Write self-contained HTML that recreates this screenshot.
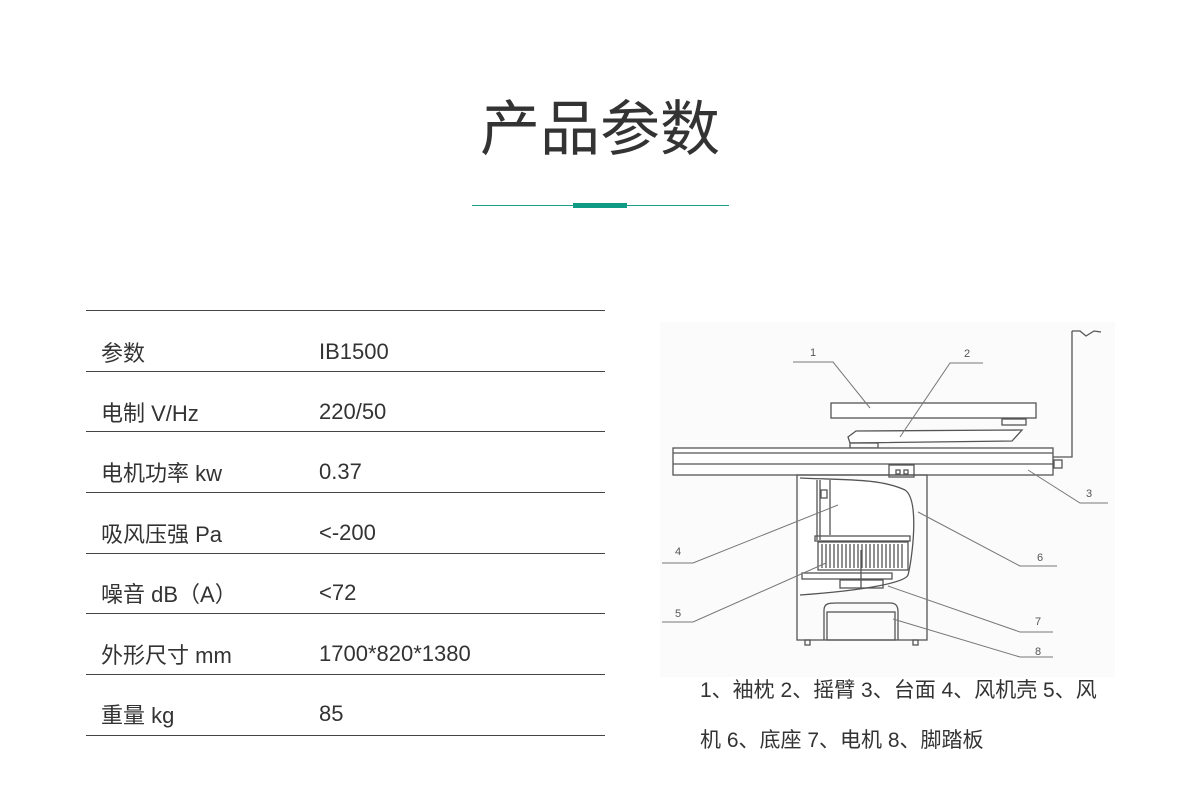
<!DOCTYPE html>
<html><head><meta charset="utf-8"><style>
body{margin:0;width:1200px;height:811px;background:#fff;position:relative;font-family:"Liberation Sans","Noto Sans CJK SC",sans-serif;color:#333;overflow:hidden}
.t{position:absolute;white-space:nowrap}
.h{position:absolute;left:86px;width:519px;height:1px;background:#444}
</style></head><body>
<div class="t" style="left:0;width:1200px;text-align:center;top:94px;font-size:60px;line-height:72px;color:#333">产品参数</div>
<div style="position:absolute;left:472px;top:205px;width:257px;height:1px;background:#1a9f8c"></div>
<div style="position:absolute;left:573px;top:203px;width:54px;height:5px;background:#0f9a84"></div>
<div class="h" style="top:310px"></div><div class="h" style="top:371px"></div><div class="h" style="top:431px"></div><div class="h" style="top:492px"></div><div class="h" style="top:553px"></div><div class="h" style="top:613px"></div><div class="h" style="top:674px"></div><div class="h" style="top:735px"></div>
<div class="t" style="left:101px;top:336px;font-size:22px">参数</div><div class="t" style="left:319px;top:339px;font-size:22px">IB1500</div>
<div class="t" style="left:101px;top:396px;font-size:22px">电制 V/Hz</div><div class="t" style="left:319px;top:399px;font-size:22px">220/50</div>
<div class="t" style="left:101px;top:456px;font-size:22px">电机功率 kw</div><div class="t" style="left:319px;top:459px;font-size:22px">0.37</div>
<div class="t" style="left:101px;top:517px;font-size:22px">吸风压强 Pa</div><div class="t" style="left:319px;top:520px;font-size:22px">&lt;-200</div>
<div class="t" style="left:101px;top:577px;font-size:22px">噪音 dB（A）</div><div class="t" style="left:319px;top:580px;font-size:22px">&lt;72</div>
<div class="t" style="left:101px;top:638px;font-size:22px">外形尺寸 mm</div><div class="t" style="left:319px;top:641px;font-size:22px">1700*820*1380</div>
<div class="t" style="left:101px;top:698px;font-size:22px">重量 kg</div><div class="t" style="left:319px;top:701px;font-size:22px">85</div>
<svg style="position:absolute;left:0;top:0" width="1200" height="811" stroke="#555" fill="none" stroke-width="1.3">
<rect x="660" y="322" width="455" height="355" fill="#fbfbfb" stroke="none"/>
<rect x="831" y="403" width="205" height="15" fill="#fff"/>
<rect x="1002" y="419" width="24" height="6"/>
<polygon points="848,437 856,431 1022,430 1012,441 850,443" fill="#fff"/>
<rect x="850" y="443" width="28" height="5"/>
<rect x="673" y="448" width="380" height="27" fill="#fff"/>
<line x1="673" y1="453" x2="1053" y2="453"/><line x1="673" y1="464" x2="1053" y2="464"/>
<rect x="889" y="465" width="25" height="12"/><rect x="896" y="470" width="4" height="4"/><rect x="904" y="470" width="4" height="4"/>
<polyline points="1072,331 1072,457 1053,457"/><polyline points="1072,331 1080,331 1086,336 1094,331 1101,332"/>
<rect x="1054" y="460" width="8" height="8"/>
<rect x="797" y="475" width="130" height="165"/>
<path d="M800,478 C840,480 880,478 905,490 C920,500 912,560 908,575 C905,582 870,590 800,595" fill="#fff"/>
<line x1="830" y1="480" x2="830" y2="535"/>
<line x1="817" y1="480" x2="817" y2="540"/><line x1="820" y1="480" x2="820" y2="540"/>
<rect x="821" y="490" width="6" height="8"/>
<rect x="815" y="536" width="95" height="5"/>
<rect x="818" y="542" width="90" height="28"/>
<path d="M822,544 v24 M826,544 v24 M830,544 v24 M834,544 v24 M838,544 v24 M842,544 v24 M846,544 v24 M850,544 v24 M854,544 v24 M858,544 v24 M862,544 v24 M866,544 v24 M870,544 v24 M874,544 v24 M878,544 v24 M882,544 v24 M886,544 v24 M890,544 v24 M894,544 v24 M898,544 v24 M902,544 v24"/>
<rect x="802" y="573" width="90" height="6"/>
<rect x="840" y="580" width="43" height="8"/><line x1="861" y1="550" x2="861" y2="588"/>
<path d="M824,640 V610 C824,603 830,603 836,603 H890 C896,603 898,606 898,612 V640"/>
<rect x="827" y="612" width="68" height="28"/>
<rect x="805" y="640" width="5" height="5"/><rect x="913" y="640" width="5" height="5"/>
<g stroke="#777" stroke-width="1">
<polyline points="793,362 833,362 870,408"/>
<polyline points="983,363 950,363 900,437"/>
<polyline points="1028,470 1080,503 1108,503"/>
<polyline points="662,563 693,563 838,505"/>
<polyline points="662,622 693,622 826,563"/>
<polyline points="918,512 1020,566 1057,566"/>
<polyline points="888,586 1020,632 1053,632"/>
<polyline points="893,619 1020,657 1053,657"/>
</g>
<g fill="#555" stroke="none" font-size="11" font-family="Liberation Sans,sans-serif">
<text x="810" y="356">1</text><text x="964" y="357">2</text><text x="1086" y="497">3</text><text x="675" y="555">4</text><text x="675" y="617">5</text><text x="1037" y="561">6</text><text x="1035" y="625">7</text><text x="1035" y="655">8</text>
</g>
</svg>
<div class="t" style="left:700px;top:676px;font-size:21px;line-height:30px">1、袖枕 2、摇臂 3、台面 4、风机壳 5、风</div>
<div class="t" style="left:700px;top:726px;font-size:21px;line-height:30px">机 6、底座 7、电机 8、脚踏板</div>
</body></html>
